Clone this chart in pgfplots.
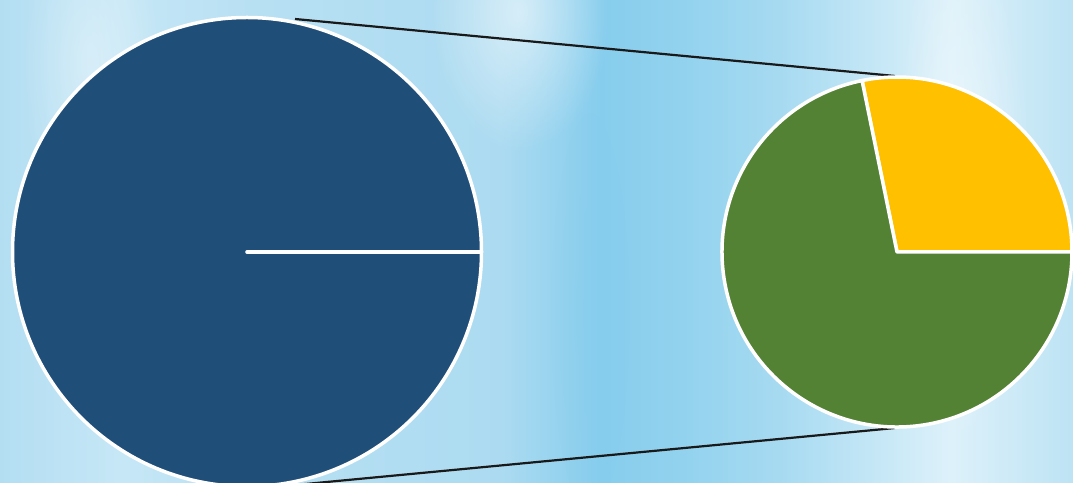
\documentclass[border=0pt]{standalone}
\usepackage{pgfplots}
\pgfplotsset{compat=1.18}
\usepackage{pgfplotstable}
\usetikzlibrary{fadings}

\definecolor{navy}{HTML}{1F4E79}
\definecolor{grn}{HTML}{548235}
\definecolor{ylw}{HTML}{FFC000}
\definecolor{b0}{HTML}{B3DEF2}
\definecolor{b1}{HTML}{C6E7F6}
\definecolor{b2}{HTML}{B8E0F3}
\definecolor{b3}{HTML}{ACDBF1}
\definecolor{b4}{HTML}{86CDED}
\definecolor{b5}{HTML}{92D2EE}
\definecolor{b6}{HTML}{A6DAF1}
\definecolor{b7}{HTML}{DDF1FA}
\definecolor{b8}{HTML}{BDE3F4}

\pgfdeclarehorizontalshading{bg}{100bp}{
 color(0bp)=(b0); color(25bp)=(b0); color(30.6bp)=(b1); color(36.6bp)=(b2);
 color(48.3bp)=(b3); color(53bp)=(b4); color(56.7bp)=(b5); color(61.3bp)=(b6);
 color(69.3bp)=(b7); color(75bp)=(b8); color(100bp)=(b8)}

\tikzfading[name=softc, inner color=transparent!0, outer color=transparent!100]

% pie values (percent)
\pgfplotstableread{
label value
Other 100
}\bigpie
\pgfplotstableread{
label value
A 28.2
B 71.8
}\smallpie

\begin{document}
\begin{tikzpicture}
\clip (0,0) rectangle (1073pt,482pt);
\shade[shading=bg] (0,0) rectangle (1073pt,482pt);
% soft whitish patches of the watercolour
\fill[white, opacity=0.55, path fading=softc] (520pt,470pt) ellipse[x radius=90pt, y radius=140pt];
\fill[white, opacity=0.45, path fading=softc] (960pt,300pt) ellipse[x radius=70pt, y radius=260pt];
\fill[white, opacity=0.35, path fading=softc] (90pt,420pt) ellipse[x radius=70pt, y radius=160pt];
\fill[b4, opacity=0.35, path fading=softc] (590pt,170pt) ellipse[x radius=40pt, y radius=200pt];
\begin{axis}[
  x=1pt, y=1pt, xmin=0, xmax=1073, ymin=0, ymax=482,
  scale only axis, hide axis, clip=true,
]
\pgfplotstablegetelem{0}{value}\of\smallpie
\pgfmathsetmacro{\angA}{\pgfplotsretval*3.6}
\pgfplotstablegetelem{0}{value}\of\bigpie
\pgfmathsetmacro{\angBig}{\pgfplotsretval*3.6}

% connector lines
\draw[black!90, line width=2.2pt] (axis cs:295,463) -- (axis cs:895,406);
\draw[black!90, line width=2.2pt] (axis cs:295,-3) -- (axis cs:895,54);

% primary pie: a single slice of 100
\fill[navy, draw=white, line width=3.5pt, line join=round]
  (axis cs:247,230) -- ++(0:234.5pt) arc[start angle=0, end angle=\angBig, radius=234.5pt] -- cycle;
\draw[white, line width=3.5pt, line cap=round] (axis cs:247,230) -- ++(0:234.5pt);

% secondary pie
\fill[ylw, draw=white, line width=3.5pt, line join=round]
  (axis cs:897,230) -- ++(0:175pt) arc[start angle=0, end angle=\angA, radius=175pt] -- cycle;
\fill[grn, draw=white, line width=3.5pt, line join=round]
  (axis cs:897,230) -- ++(\angA:175pt) arc[start angle=\angA, end angle=360, radius=175pt] -- cycle;
\end{axis}
\end{tikzpicture}
\end{document}
